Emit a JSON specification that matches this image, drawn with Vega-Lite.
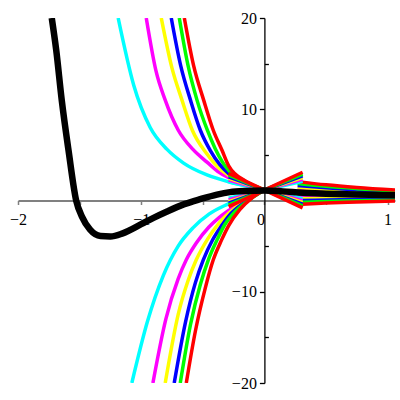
{
  "$schema": "https://vega.github.io/schema/vega-lite/v6.json",
  "autosize": "none",
  "width": 377,
  "height": 365,
  "padding": {"left": 18, "top": 18, "right": 5, "bottom": 17},
  "background": "white",
  "config": {"view": {"stroke": null}, "font": "Liberation Serif", "axis": {"labelFont": "Liberation Serif", "labelFontSize": 16, "labelColor": "black"}},
  "datasets": {
    "curves": [
      {"id": "cU", "c": "cyan", "x": -1.187, "y": 20}, {"id": "cU", "c": "cyan", "x": -1.06, "y": 12.6}, {"id": "cU", "c": "cyan", "x": -0.927, "y": 8.0}, {"id": "cU", "c": "cyan", "x": -0.79, "y": 5.6}, {"id": "cU", "c": "cyan", "x": -0.656, "y": 4.1}, {"id": "cU", "c": "cyan", "x": -0.466, "y": 2.8}, {"id": "cU", "c": "cyan", "x": -0.29, "y": 2.05}, {"id": "cU", "c": "cyan", "x": -0.15, "y": 1.6}, {"id": "cU", "c": "cyan", "x": 0, "y": 1.15},
      {"id": "mU", "c": "magenta", "x": -0.959, "y": 20}, {"id": "mU", "c": "magenta", "x": -0.88, "y": 14.2}, {"id": "mU", "c": "magenta", "x": -0.805, "y": 11}, {"id": "mU", "c": "magenta", "x": -0.699, "y": 7.7}, {"id": "mU", "c": "magenta", "x": -0.58, "y": 5.6}, {"id": "mU", "c": "magenta", "x": -0.466, "y": 4.2}, {"id": "mU", "c": "magenta", "x": -0.38, "y": 3.2}, {"id": "mU", "c": "magenta", "x": -0.29, "y": 2.5}, {"id": "mU", "c": "magenta", "x": -0.15, "y": 1.8}, {"id": "mU", "c": "magenta", "x": 0, "y": 1.15},
      {"id": "yU", "c": "yellow", "x": -0.837, "y": 20}, {"id": "yU", "c": "yellow", "x": -0.75, "y": 14.5}, {"id": "yU", "c": "yellow", "x": -0.669, "y": 11}, {"id": "yU", "c": "yellow", "x": -0.585, "y": 7.7}, {"id": "yU", "c": "yellow", "x": -0.466, "y": 5.1}, {"id": "yU", "c": "yellow", "x": -0.38, "y": 3.7}, {"id": "yU", "c": "yellow", "x": -0.29, "y": 2.75}, {"id": "yU", "c": "yellow", "x": -0.15, "y": 1.9}, {"id": "yU", "c": "yellow", "x": 0, "y": 1.15},
      {"id": "bU", "c": "blue", "x": -0.756, "y": 20}, {"id": "bU", "c": "blue", "x": -0.68, "y": 14.8}, {"id": "bU", "c": "blue", "x": -0.6, "y": 11}, {"id": "bU", "c": "blue", "x": -0.52, "y": 7.7}, {"id": "bU", "c": "blue", "x": -0.44, "y": 5.5}, {"id": "bU", "c": "blue", "x": -0.36, "y": 3.9}, {"id": "bU", "c": "blue", "x": -0.29, "y": 2.95}, {"id": "bU", "c": "blue", "x": -0.15, "y": 1.95}, {"id": "bU", "c": "blue", "x": 0, "y": 1.15},
      {"id": "gU", "c": "green", "x": -0.691, "y": 20}, {"id": "gU", "c": "green", "x": -0.62, "y": 14.8}, {"id": "gU", "c": "green", "x": -0.547, "y": 11}, {"id": "gU", "c": "green", "x": -0.463, "y": 7.7}, {"id": "gU", "c": "green", "x": -0.4, "y": 5.7}, {"id": "gU", "c": "green", "x": -0.34, "y": 4.2}, {"id": "gU", "c": "green", "x": -0.29, "y": 3.3}, {"id": "gU", "c": "green", "x": -0.15, "y": 2.0}, {"id": "gU", "c": "green", "x": 0, "y": 1.15},
      {"id": "rU", "c": "red", "x": -0.65, "y": 20}, {"id": "rU", "c": "red", "x": -0.575, "y": 14.8}, {"id": "rU", "c": "red", "x": -0.493, "y": 11}, {"id": "rU", "c": "red", "x": -0.415, "y": 7.7}, {"id": "rU", "c": "red", "x": -0.344, "y": 5.5}, {"id": "rU", "c": "red", "x": -0.29, "y": 3.8}, {"id": "rU", "c": "red", "x": -0.15, "y": 2.1}, {"id": "rU", "c": "red", "x": 0, "y": 1.15},
      {"id": "cL", "c": "cyan", "x": -1.076, "y": -20}, {"id": "cL", "c": "cyan", "x": -0.95, "y": -13.3}, {"id": "cL", "c": "cyan", "x": -0.82, "y": -8.2}, {"id": "cL", "c": "cyan", "x": -0.7, "y": -5.0}, {"id": "cL", "c": "cyan", "x": -0.58, "y": -3.0}, {"id": "cL", "c": "cyan", "x": -0.45, "y": -1.5}, {"id": "cL", "c": "cyan", "x": -0.29, "y": -0.35}, {"id": "cL", "c": "cyan", "x": -0.15, "y": 0.5}, {"id": "cL", "c": "cyan", "x": 0, "y": 1.15},
      {"id": "mL", "c": "magenta", "x": -0.905, "y": -20}, {"id": "mL", "c": "magenta", "x": -0.8, "y": -13.0}, {"id": "mL", "c": "magenta", "x": -0.7, "y": -8.6}, {"id": "mL", "c": "magenta", "x": -0.634, "y": -6.5}, {"id": "mL", "c": "magenta", "x": -0.55, "y": -4.6}, {"id": "mL", "c": "magenta", "x": -0.45, "y": -2.9}, {"id": "mL", "c": "magenta", "x": -0.37, "y": -1.9}, {"id": "mL", "c": "magenta", "x": -0.29, "y": -1.1}, {"id": "mL", "c": "magenta", "x": -0.15, "y": 0.2}, {"id": "mL", "c": "magenta", "x": 0, "y": 1.15},
      {"id": "yL", "c": "yellow", "x": -0.805, "y": -20}, {"id": "yL", "c": "yellow", "x": -0.7, "y": -12.5}, {"id": "yL", "c": "yellow", "x": -0.62, "y": -8.8}, {"id": "yL", "c": "yellow", "x": -0.553, "y": -6.5}, {"id": "yL", "c": "yellow", "x": -0.46, "y": -4.2}, {"id": "yL", "c": "yellow", "x": -0.37, "y": -2.5}, {"id": "yL", "c": "yellow", "x": -0.29, "y": -1.4}, {"id": "yL", "c": "yellow", "x": -0.15, "y": 0.05}, {"id": "yL", "c": "yellow", "x": 0, "y": 1.15},
      {"id": "bL", "c": "blue", "x": -0.732, "y": -20}, {"id": "bL", "c": "blue", "x": -0.64, "y": -13.3}, {"id": "bL", "c": "blue", "x": -0.56, "y": -9.0}, {"id": "bL", "c": "blue", "x": -0.496, "y": -6.5}, {"id": "bL", "c": "blue", "x": -0.42, "y": -4.3}, {"id": "bL", "c": "blue", "x": -0.35, "y": -2.8}, {"id": "bL", "c": "blue", "x": -0.29, "y": -1.7}, {"id": "bL", "c": "blue", "x": -0.15, "y": -0.1}, {"id": "bL", "c": "blue", "x": 0, "y": 1.15},
      {"id": "gL", "c": "green", "x": -0.683, "y": -20}, {"id": "gL", "c": "green", "x": -0.6, "y": -13.6}, {"id": "gL", "c": "green", "x": -0.52, "y": -9.2}, {"id": "gL", "c": "green", "x": -0.455, "y": -6.5}, {"id": "gL", "c": "green", "x": -0.38, "y": -4.2}, {"id": "gL", "c": "green", "x": -0.32, "y": -2.6}, {"id": "gL", "c": "green", "x": -0.25, "y": -1.4}, {"id": "gL", "c": "green", "x": -0.15, "y": -0.2}, {"id": "gL", "c": "green", "x": 0, "y": 1.15},
      {"id": "rL", "c": "red", "x": -0.634, "y": -20}, {"id": "rL", "c": "red", "x": -0.56, "y": -14.3}, {"id": "rL", "c": "red", "x": -0.48, "y": -9.6}, {"id": "rL", "c": "red", "x": -0.415, "y": -6.5}, {"id": "rL", "c": "red", "x": -0.35, "y": -4.4}, {"id": "rL", "c": "red", "x": -0.29, "y": -2.75}, {"id": "rL", "c": "red", "x": -0.2, "y": -1.0}, {"id": "rL", "c": "red", "x": -0.1, "y": 0.28}, {"id": "rL", "c": "red", "x": 0, "y": 1.15},
      {"id": "cRU", "c": "cyan", "x": 0.27, "y": 1.03}, {"id": "cRU", "c": "cyan", "x": 0.5, "y": 0.89}, {"id": "cRU", "c": "cyan", "x": 0.75, "y": 0.76}, {"id": "cRU", "c": "cyan", "x": 1.06, "y": 0.65},
      {"id": "cRL", "c": "cyan", "x": 0.27, "y": 0.61}, {"id": "cRL", "c": "cyan", "x": 0.5, "y": 0.55}, {"id": "cRL", "c": "cyan", "x": 0.75, "y": 0.5}, {"id": "cRL", "c": "cyan", "x": 1.06, "y": 0.45},
      {"id": "mRU", "c": "magenta", "x": 0.27, "y": 1.24}, {"id": "mRU", "c": "magenta", "x": 0.5, "y": 1.05}, {"id": "mRU", "c": "magenta", "x": 0.75, "y": 0.9}, {"id": "mRU", "c": "magenta", "x": 1.06, "y": 0.75},
      {"id": "mRL", "c": "magenta", "x": 0.27, "y": 0.4}, {"id": "mRL", "c": "magenta", "x": 0.5, "y": 0.39}, {"id": "mRL", "c": "magenta", "x": 0.75, "y": 0.36}, {"id": "mRL", "c": "magenta", "x": 1.06, "y": 0.35},
      {"id": "yRU", "c": "yellow", "x": 0.27, "y": 1.45}, {"id": "yRU", "c": "yellow", "x": 0.5, "y": 1.22}, {"id": "yRU", "c": "yellow", "x": 0.75, "y": 1.03}, {"id": "yRU", "c": "yellow", "x": 1.06, "y": 0.85},
      {"id": "yRL", "c": "yellow", "x": 0.27, "y": 0.2}, {"id": "yRL", "c": "yellow", "x": 0.5, "y": 0.22}, {"id": "yRL", "c": "yellow", "x": 0.75, "y": 0.23}, {"id": "yRL", "c": "yellow", "x": 1.06, "y": 0.25},
      {"id": "bRU", "c": "blue", "x": 0.27, "y": 1.65}, {"id": "bRU", "c": "blue", "x": 0.5, "y": 1.39}, {"id": "bRU", "c": "blue", "x": 0.75, "y": 1.16}, {"id": "bRU", "c": "blue", "x": 1.06, "y": 0.95},
      {"id": "bRL", "c": "blue", "x": 0.27, "y": -0.01}, {"id": "bRL", "c": "blue", "x": 0.5, "y": 0.05}, {"id": "bRL", "c": "blue", "x": 0.75, "y": 0.1}, {"id": "bRL", "c": "blue", "x": 1.06, "y": 0.15},
      {"id": "gRU", "c": "green", "x": 0.27, "y": 1.86}, {"id": "gRU", "c": "green", "x": 0.5, "y": 1.55}, {"id": "gRU", "c": "green", "x": 0.75, "y": 1.3}, {"id": "gRU", "c": "green", "x": 1.06, "y": 1.05},
      {"id": "gRL", "c": "green", "x": 0.27, "y": -0.22}, {"id": "gRL", "c": "green", "x": 0.5, "y": -0.11}, {"id": "gRL", "c": "green", "x": 0.75, "y": -0.04}, {"id": "gRL", "c": "green", "x": 1.06, "y": 0.05},
      {"id": "rRU", "c": "red", "x": 0.27, "y": 2.07}, {"id": "rRU", "c": "red", "x": 0.5, "y": 1.72}, {"id": "rRU", "c": "red", "x": 0.75, "y": 1.43}, {"id": "rRU", "c": "red", "x": 1.06, "y": 1.15},
      {"id": "rRL", "c": "red", "x": 0.27, "y": -0.43}, {"id": "rRL", "c": "red", "x": 0.5, "y": -0.28}, {"id": "rRL", "c": "red", "x": 0.75, "y": -0.17}, {"id": "rRL", "c": "red", "x": 1.06, "y": -0.05}
    ],
    "fan": [
      {"id": "cD", "c": "cyan", "x": -0.29, "y": 2.05}, {"id": "cD", "c": "cyan", "x": 0.31, "y": 0.19},
      {"id": "cA", "c": "cyan", "x": -0.29, "y": 0.25}, {"id": "cA", "c": "cyan", "x": 0.31, "y": 2.11},
      {"id": "mD", "c": "magenta", "x": -0.29, "y": 2.24}, {"id": "mD", "c": "magenta", "x": 0.31, "y": -0.01},
      {"id": "mA", "c": "magenta", "x": -0.29, "y": 0.06}, {"id": "mA", "c": "magenta", "x": 0.31, "y": 2.31},
      {"id": "yD", "c": "yellow", "x": -0.29, "y": 2.43}, {"id": "yD", "c": "yellow", "x": 0.31, "y": -0.21},
      {"id": "yA", "c": "yellow", "x": -0.29, "y": -0.13}, {"id": "yA", "c": "yellow", "x": 0.31, "y": 2.51},
      {"id": "bD", "c": "blue", "x": -0.29, "y": 2.6}, {"id": "bD", "c": "blue", "x": 0.31, "y": -0.4},
      {"id": "bA", "c": "blue", "x": -0.29, "y": -0.3}, {"id": "bA", "c": "blue", "x": 0.31, "y": 2.7},
      {"id": "gD", "c": "green", "x": -0.29, "y": 2.79}, {"id": "gD", "c": "green", "x": 0.31, "y": -0.6},
      {"id": "gA", "c": "green", "x": -0.29, "y": -0.49}, {"id": "gA", "c": "green", "x": 0.31, "y": 2.9},
      {"id": "rD", "c": "red", "x": -0.29, "y": 2.98}, {"id": "rD", "c": "red", "x": 0.31, "y": -0.8},
      {"id": "rA", "c": "red", "x": -0.29, "y": -0.68}, {"id": "rA", "c": "red", "x": 0.31, "y": 3.1}
    ],
    "black": [
      {"x": -1.726, "y": 20}, {"x": -1.69, "y": 16.5}, {"x": -1.645, "y": 11}, {"x": -1.59, "y": 5.5}, {"x": -1.528, "y": 0}, {"x": -1.48, "y": -1.8}, {"x": -1.415, "y": -3.2}, {"x": -1.33, "y": -3.9}, {"x": -1.25, "y": -3.95}, {"x": -1.15, "y": -3.6}, {"x": -1.0, "y": -2.6}, {"x": -0.9, "y": -1.9}, {"x": -0.79, "y": -1.2}, {"x": -0.65, "y": -0.4}, {"x": -0.52, "y": 0.15}, {"x": -0.385, "y": 0.65}, {"x": -0.28, "y": 0.92}, {"x": -0.15, "y": 1.05}, {"x": 0, "y": 1.1}, {"x": 0.15, "y": 1.0}, {"x": 0.31, "y": 0.85}, {"x": 0.5, "y": 0.75}, {"x": 0.75, "y": 0.65}, {"x": 1.06, "y": 0.57}
    ]
  },
  "encoding": {
    "x": {"field": "x", "type": "quantitative", "scale": {"domain": [-2, 1.06], "nice": false, "zero": false},
      "axis": {"orient": "bottom", "offset": -182.5, "title": null, "grid": false,
        "values": [-2, -1.5, -1, -0.5, 0, 0.5, 1],
        "labelExpr": "datum.value % 1 == 0 ? format(datum.value, 'd') : ''",
        "labelAlign": {"condition": {"test": "datum.value == 0", "value": "right"}, "value": "center"},
        "labelFont": "Liberation Serif", "labelFontSize": 16, "labelColor": "black", "labelPadding": 7,
        "labelOverlap": false, "labelFlush": false,
        "domainColor": "#808080", "domainWidth": 2, "tickColor": "#808080", "tickWidth": 1.5, "tickSize": 4}},
    "y": {"field": "y", "type": "quantitative", "scale": {"domain": [-20, 20], "nice": false, "zero": false},
      "axis": {"orient": "left", "offset": -246.4, "title": null, "grid": false,
        "values": [-20, -15, -10, -5, 5, 10, 15, 20],
        "labelExpr": "datum.value % 10 == 0 ? format(datum.value, 'd') : ''",
        "labelFont": "Liberation Serif", "labelFontSize": 16, "labelColor": "black", "labelPadding": 3,
        "labelOverlap": false, "labelFlush": false,
        "domainColor": "black", "domainWidth": 1.3, "tickColor": "black", "tickWidth": 1.3,
        "tickSize": {"condition": {"test": "abs(datum.value) % 10 == 5", "value": -4}, "value": 5}}}
  },
  "layer": [
    {
      "data": {"name": "curves"},
      "mark": {"type": "line", "interpolate": "monotone", "strokeWidth": 3.5, "clip": true},
      "encoding": {
        "detail": {"field": "id", "type": "nominal"},
        "color": {"field": "c", "type": "nominal", "legend": null,
          "scale": {"domain": ["cyan", "magenta", "yellow", "blue", "green", "red"], "range": ["#00FFFF", "#FF00FF", "#FFFF00", "#0000FF", "#00FF00", "#FF0000"]}}
      }
    },
    {
      "data": {"name": "fan"},
      "mark": {"type": "line", "strokeWidth": 3.5, "clip": true},
      "encoding": {
        "detail": {"field": "id", "type": "nominal"},
        "color": {"field": "c", "type": "nominal", "legend": null,
          "scale": {"domain": ["cyan", "magenta", "yellow", "blue", "green", "red"], "range": ["#00FFFF", "#FF00FF", "#FFFF00", "#0000FF", "#00FF00", "#FF0000"]}}
      }
    },
    {
      "data": {"name": "black"},
      "mark": {"type": "line", "interpolate": "monotone", "strokeWidth": 6.5, "color": "black", "clip": true},
      "encoding": {}
    }
  ]
}
